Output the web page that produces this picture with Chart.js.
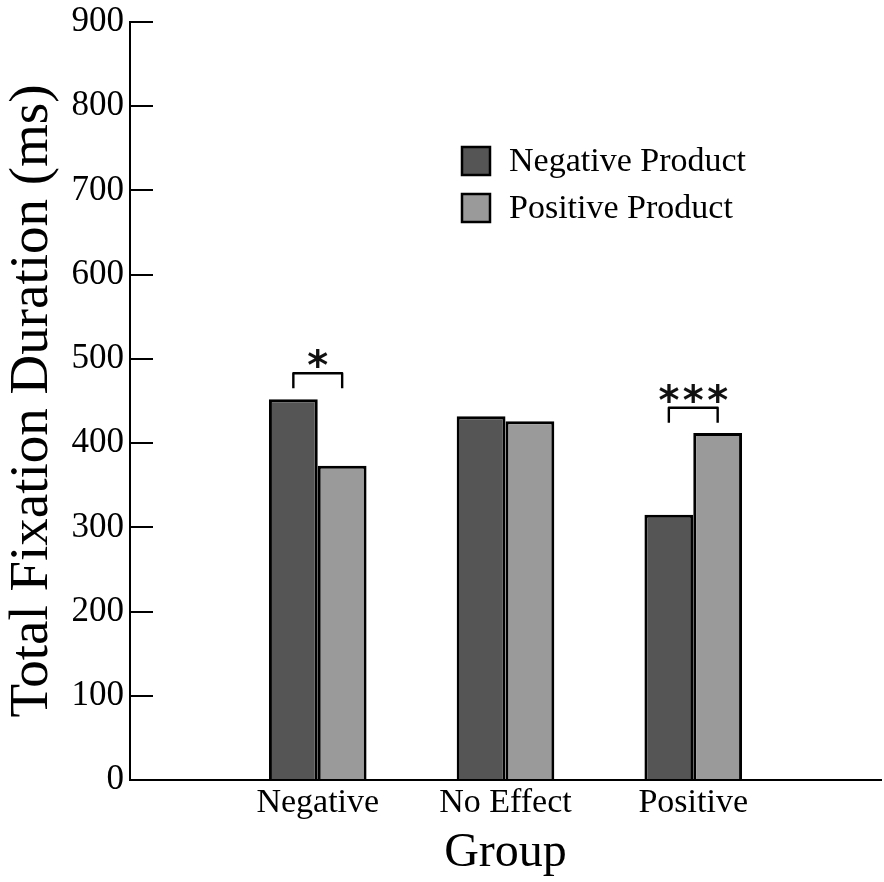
<!DOCTYPE html>
<html>
<head>
<meta charset="utf-8">
<script src="https://cdn.jsdelivr.net/npm/chart.js@4/dist/chart.umd.min.js"></script>
<style>
  html, body { margin: 0; padding: 0; background: #ffffff; }
  #wrap { width: 884px; height: 882px; position: relative; }
</style>
</head>
<body>
<div id="wrap"><canvas id="c"></canvas></div>
<script>
// ---- data ----
const categories = ['Negative', 'No Effect', 'Positive'];
const seriesNames = ['Negative Product', 'Positive Product'];
const negativeProduct = [452, 432, 315];
const positiveProduct = [373, 426, 412];
const yTickValues = [0, 100, 200, 300, 400, 500, 600, 700, 800, 900];
const sigCategories = ['Negative', 'Positive'];
const sigLabels = ['*', '***'];
const sigLevels = [483, 442];

// empty slots on both sides so the groups sit at 1/4, 2/4, 3/4 of the axis
const labels = [''].concat(categories, ['']);
const pad = arr => [null].concat(arr, [null]);

const SERIF = "'Liberation Serif', 'Times New Roman', serif";

const legendPlugin = {
  id: 'boxLegend',
  afterDraw(chart, args, opts) {
    const ctx = chart.ctx;
    ctx.save();
    chart.data.datasets.forEach((ds, i) => {
      const y = opts.y + i * opts.rowGap;
      ctx.fillStyle = ds.backgroundColor;
      ctx.fillRect(opts.x, y, opts.box, opts.box);
      ctx.lineWidth = 2.5;
      ctx.strokeStyle = '#000';
      ctx.strokeRect(opts.x, y, opts.box, opts.box);
      ctx.fillStyle = '#000';
      ctx.font = opts.fontSize + 'px ' + SERIF;
      ctx.textBaseline = 'middle';
      ctx.textAlign = 'left';
      ctx.fillText(ds.label, opts.x + opts.box + opts.textGap, y + opts.box / 2 + 1);
    });
    ctx.restore();
  }
};

const sigPlugin = {
  id: 'sigBrackets',
  afterDatasetsDraw(chart, args, opts) {
    const ctx = chart.ctx;
    const yScale = chart.scales.y;
    const m0 = chart.getDatasetMeta(0), m1 = chart.getDatasetMeta(1);
    ctx.save();
    sigCategories.forEach((cat, k) => {
      const idx = labels.indexOf(cat);
      const x0 = m0.data[idx].x, x1 = m1.data[idx].x;
      const yt = yScale.getPixelForValue(sigLevels[k]);
      ctx.strokeStyle = '#000';
      ctx.lineWidth = 2.4;
      ctx.lineJoin = 'round';
      ctx.beginPath();
      ctx.moveTo(x0, yt + opts.leg);
      ctx.lineTo(x0, yt);
      ctx.lineTo(x1, yt);
      ctx.lineTo(x1, yt + opts.leg);
      ctx.stroke();
      const n = sigLabels[k].length;
      ctx.fillStyle = '#111';
      ctx.font = 'bold ' + opts.starSize + "px 'DejaVu Sans', sans-serif";
      ctx.textAlign = 'center';
      ctx.textBaseline = 'alphabetic';
      for (let s = 0; s < n; s++) {
        const sx = n === 1 ? (x0 + x1) / 2 : x0 + (x1 - x0) * s / (n - 1);
        ctx.fillText('*', sx, yt + opts.starDy);
      }
    });
    ctx.restore();
  }
};

new Chart(document.getElementById('c'), {
  type: 'bar',
  data: {
    labels: labels,
    datasets: [
      { label: seriesNames[0], data: pad(negativeProduct), backgroundColor: '#555555', borderColor: '#000000', borderWidth: 3 },
      { label: seriesNames[1], data: pad(positiveProduct), backgroundColor: '#9a9a9a', borderColor: '#000000', borderWidth: 3 }
    ]
  },
  options: {
    responsive: true,
    maintainAspectRatio: false,
    animation: false,
    layout: { padding: { top: 0, right: 0, left: 0, bottom: 0 } },
    datasets: { bar: { categoryPercentage: 0.52, barPercentage: 1.0 } },
    plugins: {
      legend: { display: false },
      tooltip: { enabled: false },
      boxLegend: { x: 462, y: 147, box: 28, rowGap: 47, textGap: 19, fontSize: 34 },
      sigBrackets: { leg: 15, starSize: 40, starDy: 6 }
    },
    scales: {
      x: {
        offset: false,
        grid: { display: false, drawTicks: false },
        border: { display: true, color: '#000', width: 2 },
        ticks: { color: '#000', font: { family: SERIF, size: 34 }, padding: 3, maxRotation: 0, autoSkip: false },
        title: { display: true, text: 'Group', color: '#000', font: { family: SERIF, size: 48 }, padding: 0 },
        afterFit: s => { s.height = 102; }
      },
      y: {
        min: yTickValues[0],
        max: yTickValues[yTickValues.length - 1],
        afterBuildTicks: s => { s.ticks = yTickValues.map(v => ({ value: v })); },
        grid: { display: true, drawOnChartArea: false, drawTicks: true, tickLength: -23, color: '#000', lineWidth: 2 },
        border: { display: true, color: '#000', width: 2 },
        ticks: { color: '#000', font: { family: SERIF, size: 35 }, padding: 29 },
        title: { display: true, text: 'Total Fixation Duration (ms)', color: '#000', font: { family: SERIF, size: 55 }, padding: 0 },
        afterFit: s => { s.width = 130; s.paddingTop = 22; s.paddingBottom = 0; }
      }
    }
  },
  plugins: [legendPlugin, sigPlugin]
});
</script>
</body>
</html>
